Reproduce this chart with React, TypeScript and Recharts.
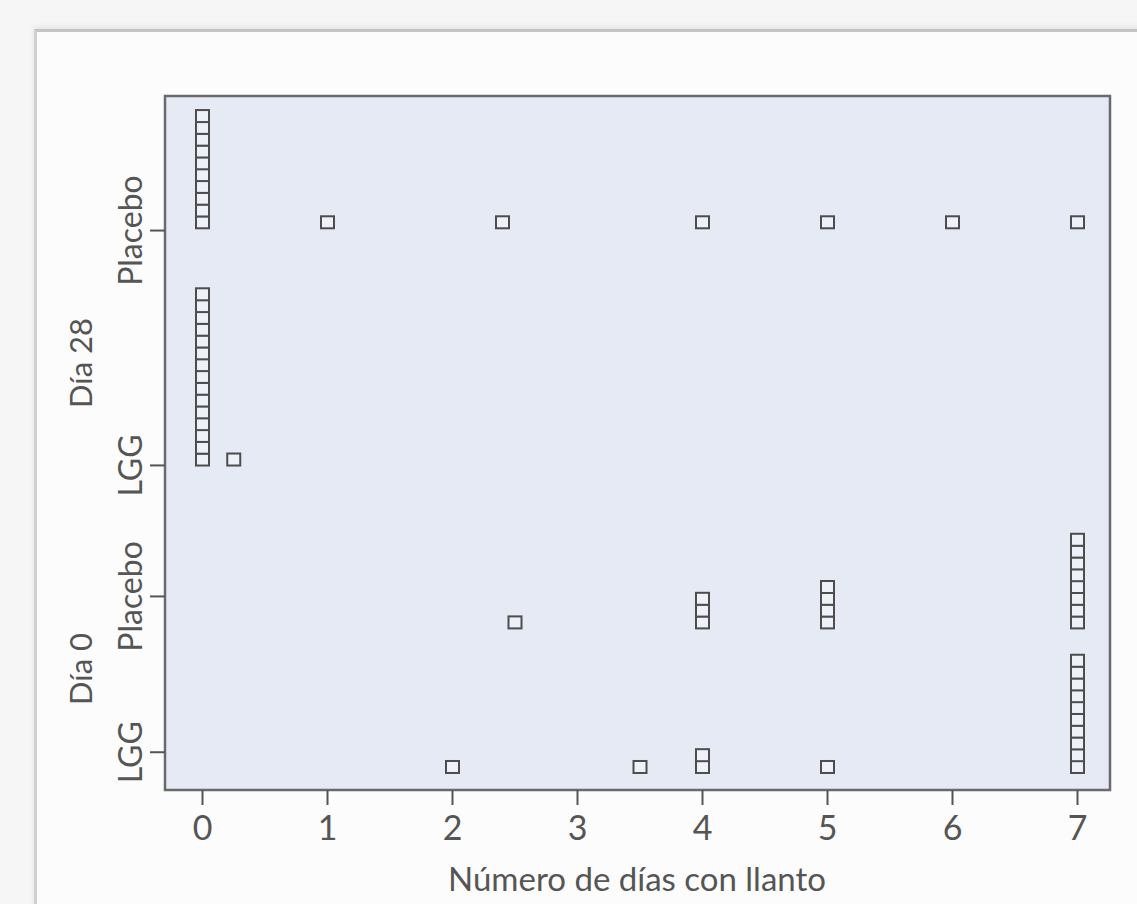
import React from 'react'
import {
  ScatterChart,
  Scatter,
  XAxis,
  YAxis,
  CartesianGrid,
  ReferenceArea,
} from 'recharts'

// Días con llanto por grupo (cada cuadrado = un lactante)
const lggDia0Dias = [2, 3.5, 4, 5, 7]
const lggDia0Cuenta = [1, 1, 2, 1, 10]

const placeboDia0Dias = [2.5, 4, 5, 7]
const placeboDia0Cuenta = [1, 3, 4, 8]

const lggDia28Dias = [0, 0.25]
const lggDia28Cuenta = [15, 1]

const placeboDia28Dias = [0, 1, 2.4, 4, 5, 6, 7]
const placeboDia28Cuenta = [10, 1, 1, 1, 1, 1, 1]

const tickLabels = ['LGG', 'Placebo', 'LGG', 'Placebo']
const xTicks = [0, 1, 2, 3, 4, 5, 6, 7]

// posiciones del eje Y (unidades = altura de un cuadrado)
const yTicks = [3.2, 16.4, 27.5, 47.4]
const stackBase = [1.95, 14.2, 28, 48.1]

const FONT = 'Lato, "Open Sans", sans-serif'
const TEXT = '#555'

function stack(days: number[], counts: number[], base: number) {
  const pts: { x: number; y: number }[] = []
  days.forEach((d, i) => {
    for (let k = 0; k < counts[i]; k++) pts.push({ x: d, y: base + k })
  })
  return pts
}

const series = [
  stack(lggDia0Dias, lggDia0Cuenta, stackBase[0]),
  stack(placeboDia0Dias, placeboDia0Cuenta, stackBase[1]),
  stack(lggDia28Dias, lggDia28Cuenta, stackBase[2]),
  stack(placeboDia28Dias, placeboDia28Cuenta, stackBase[3]),
]

const Square = (props: any) => {
  const { cx, cy } = props
  return (
    <rect
      x={cx - 6.5}
      y={cy - 6}
      width={13}
      height={12}
      fill="#eef1f8"
      stroke="#4d4d4d"
      strokeWidth={2}
    />
  )
}

const YTick = (props: any) => {
  const { y, payload } = props
  const i = yTicks.indexOf(payload.value)
  return (
    <text
      x={130}
      y={y}
      transform={`rotate(-90, 130, ${y})`}
      textAnchor="middle"
      dominantBaseline="central"
      fill={TEXT}
      fontSize={32}
      fontFamily={FONT}
    >
      {tickLabels[i]}
    </text>
  )
}

const groupLabel = (top: number): React.CSSProperties => ({
  position: 'absolute',
  left: 80,
  top,
  transform: 'translate(-50%, -50%) rotate(-90deg)',
  fontFamily: FONT,
  fontSize: 31,
  color: TEXT,
  whiteSpace: 'nowrap',
})

export default function App() {
  return (
    <div
      style={{
        position: 'absolute',
        left: 0,
        top: 0,
        width: 1137,
        height: 904,
        background: '#f6f6f6',
        overflow: 'hidden',
      }}
    >
      <div
        style={{
          position: 'absolute',
          left: 34,
          top: 29,
          width: 1120,
          height: 900,
          background: '#fcfcfc',
          borderTop: '3px solid #c4c4c4',
          borderLeft: '3px solid #d0d0d0',
          boxShadow: '0 -2px 6px rgba(0,0,0,0.08)',
        }}
      />
      <div style={{ position: 'absolute', left: 0, top: 0 }}>
        <ScatterChart
          width={1137}
          height={904}
          margin={{ top: 96, right: 27, bottom: 0, left: 0 }}
        >
          <CartesianGrid horizontal={false} vertical={false} fill="#e6eaf5" />
          <XAxis
            type="number"
            dataKey="x"
            domain={[-0.3, 7.26]}
            ticks={xTicks}
            allowDataOverflow
            height={114}
            tickSize={15}
            tickMargin={11}
            axisLine={false}
            tickLine={{ stroke: '#555', strokeWidth: 2 }}
            tick={{ fill: TEXT, fontSize: 34, fontFamily: FONT }}
          />
          <YAxis
            type="number"
            dataKey="y"
            domain={[0, 58.8]}
            ticks={yTicks}
            allowDataOverflow
            width={165}
            tickSize={15}
            axisLine={false}
            tickLine={{ stroke: '#555', strokeWidth: 2 }}
            tick={<YTick />}
          />
          <ReferenceArea
            x1={-0.3}
            x2={7.26}
            y1={0}
            y2={58.8}
            fill="none"
            fillOpacity={0}
            stroke="#6a6a6a"
            strokeWidth={2.5}
          />
          {series.map((pts, i) => (
            <Scatter
              key={i}
              data={pts}
              shape={<Square />}
              isAnimationActive={false}
            />
          ))}
        </ScatterChart>
      </div>
      <div style={groupLabel(363)}>Día 28</div>
      <div style={groupLabel(669)}>Día 0</div>
      <div
        style={{
          position: 'absolute',
          left: 637,
          top: 878,
          transform: 'translate(-50%, -50%)',
          fontFamily: FONT,
          fontSize: 33,
          color: TEXT,
          whiteSpace: 'nowrap',
        }}
      >
        Número de días con llanto
      </div>
    </div>
  )
}
